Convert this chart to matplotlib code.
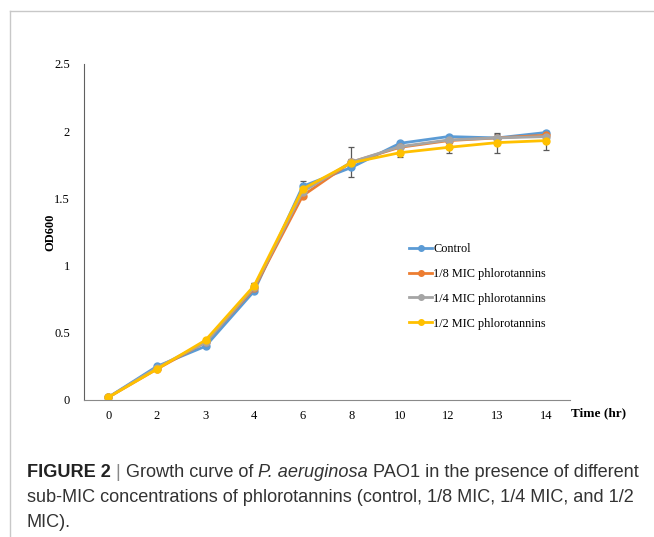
import matplotlib.pyplot as plt
import numpy as np
from matplotlib.lines import Line2D

# data
times = ["0", "2", "3", "4", "6", "8", "10", "12", "13", "14"]
control = [0.02, 0.25, 0.40, 0.81, 1.59, 1.73, 1.91, 1.96, 1.95, 1.99]
mic_1_8 = [0.02, 0.23, 0.43, 0.83, 1.52, 1.77, 1.88, 1.93, 1.95, 1.97]
mic_1_4 = [0.02, 0.24, 0.43, 0.84, 1.55, 1.77, 1.885, 1.935, 1.95, 1.96]
mic_1_2 = [0.02, 0.23, 0.445, 0.85, 1.57, 1.765, 1.84, 1.88, 1.915, 1.93]
err_control = [0.0, 0.01, 0.0, 0.0, 0.04, 0.0, 0.01, 0.01, 0.0, 0.01]
err_1_8 = [0.0, 0.0, 0.0, 0.0, 0.0, 0.0, 0.0, 0.0, 0.0, 0.0]
err_1_4 = [0.0, 0.0, 0.0, 0.03, 0.0, 0.11, 0.0, 0.0, 0.03, 0.0]
err_1_2 = [0.0, 0.0, 0.0, 0.02, 0.02, 0.03, 0.03, 0.04, 0.075, 0.07]
y_ticks = [0, 0.5, 1, 1.5, 2, 2.5]
y_tick_labels = ["0", "0.5", "1", "1.5", "2", "2.5"]

series = [
    ("Control", control, err_control, "#5b9bd5"),
    ("1/8 MIC phlorotannins", mic_1_8, err_1_8, "#ed7d31"),
    ("1/4 MIC phlorotannins", mic_1_4, err_1_4, "#a5a5a5"),
    ("1/2 MIC phlorotannins", mic_1_2, err_1_2, "#ffc000"),
]

SERIF = ["Liberation Serif", "DejaVu Serif"]
SANS = ["Liberation Sans", "DejaVu Sans"]

fig = plt.figure(figsize=(6.54, 5.37), dpi=100)
ax = fig.add_axes([84 / 654, 1 - 400 / 537, 486 / 654, 336 / 537])

x = np.arange(len(times))
for label, vals, err, color in series:
    ax.errorbar(x, vals, yerr=err, color=color, lw=2.0, marker="o", ms=5,
                ecolor="#595959", elinewidth=0.9, capsize=2.5, capthick=0.9,
                label=label)

ax.set_xlim(-0.5, len(times) - 0.5)
ax.set_ylim(0, 2.5)
ax.set_xticks(x)
ax.set_xticklabels(times)
ax.set_yticks(y_ticks)
ax.set_yticklabels(y_tick_labels)
ax.tick_params(length=0, labelsize=9)
ax.tick_params(axis="x", pad=7)
ax.tick_params(axis="y", pad=10)
for t in ax.get_xticklabels() + ax.get_yticklabels():
    t.set_family(SERIF)
for s in ["top", "right"]:
    ax.spines[s].set_visible(False)
ax.spines["left"].set_color("#606060")
ax.spines["bottom"].set_color("#8a8a8a")

fig.text(50 / 654, 1 - 232 / 537, "OD600", rotation=90, ha="center", va="center",
         family=SERIF, weight="bold", size=9)
fig.text(571 / 654, 1 - 413 / 537, "Time (hr)", ha="left", va="center",
         family=SERIF, weight="bold", size=9.5)

handles = [Line2D([], [], color=c, lw=2.0, marker="o", ms=4) for _, _, _, c in series]
leg = ax.legend(handles, [s[0] for s in series], loc="upper left",
                bbox_to_anchor=(398 / 654, 1 - 232 / 537), bbox_transform=fig.transFigure,
                frameon=False, handlelength=1.9, handletextpad=0.1, labelspacing=1.05,
                prop={"family": SERIF, "size": 8.8})

# frame lines of the figure panel
fig.add_artist(Line2D([10 / 654, 10 / 654], [0, 1 - 11 / 537], color="#c8c8c8", lw=1.0,
                      transform=fig.transFigure))
fig.add_artist(Line2D([10 / 654, 1], [1 - 11 / 537, 1 - 11 / 537], color="#c8c8c8", lw=1.0,
                      transform=fig.transFigure))

# caption with mixed styles
lines = [
    [("FIGURE 2", "bold", "normal", "#222222"), (" | ", "normal", "normal", "#888888"),
     ("Growth curve of ", "normal", "normal", "#333333"),
     ("P. aeruginosa", "normal", "italic", "#333333"),
     (" PAO1 in the presence of different", "normal", "normal", "#333333")],
    [("sub-MIC concentrations of phlorotannins (control, 1/8 MIC, 1/4 MIC, and 1/2",
      "normal", "normal", "#333333")],
    [("MIC).", "normal", "normal", "#333333")],
]
baselines = [477, 502, 527]
fig.canvas.draw()
renderer = fig.canvas.get_renderer()
for parts, base in zip(lines, baselines):
    px = 27
    for txt, weight, style, color in parts:
        t = fig.text(px / 654, 1 - base / 537, txt, ha="left", va="baseline",
                     family=SANS, weight=weight, style=style, color=color, size=13.1)
        px += t.get_window_extent(renderer).width

fig.savefig("out.png", dpi=100)
